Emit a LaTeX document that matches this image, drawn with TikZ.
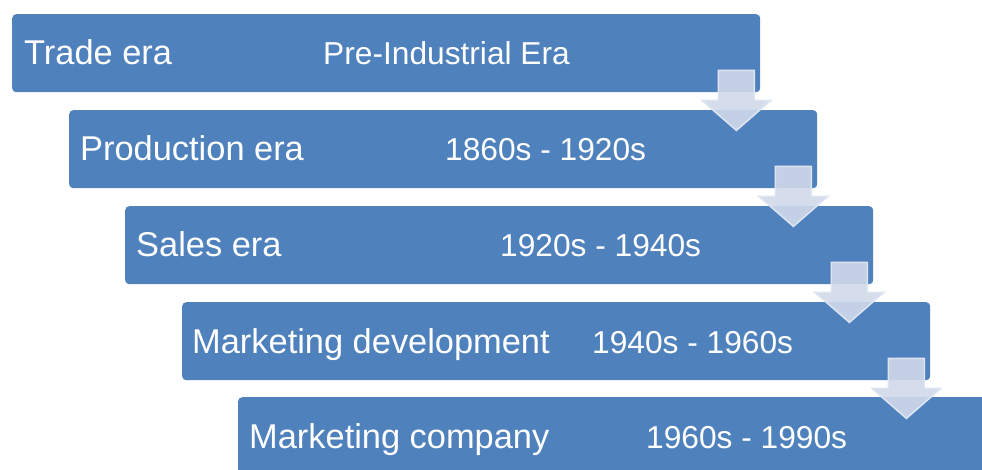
\documentclass[tikz,border=0pt]{standalone}
\usepackage{fontspec}
\setmainfont{Liberation Sans}
\definecolor{eraBlue}{RGB}{79,129,189}
\definecolor{flowFill}{RGB}{208,217,234}
\definecolor{flowLine}{RGB}{222,229,241}

\begin{document}
\begin{tikzpicture}[x=1pt, y=-1pt,
    stage/.style={fill=eraBlue, rounded corners=4pt, minimum width=748pt, minimum height=78pt,
      inner sep=0pt, anchor=north west},
    era/.style={text=white, anchor=base west, inner sep=0pt, font=\fontsize{34.4}{40}\selectfont},
    period/.style={text=white, anchor=base west, inner sep=0pt, font=\fontsize{31.7}{38}\selectfont},
    flow/.style={fill=flowFill, fill opacity=0.9, draw=flowLine, line width=1.5pt, line join=miter}]
  \clip (0,0) rectangle (982,469);
  \node[stage] (trade) at (12,14) {};
  \node[stage] (production) at (69,110) {};
  \node[stage] (sales) at (125,206) {};
  \node[stage] (development) at (182,302) {};
  \node[stage] (company) at (238,397) {};

  \node[era] (tradeName) at ([shift={(12,50)}]trade.north west) {Trade era};
  \node[period] (tradeTime) at ([shift={(311,50)}]trade.north west) {Pre-Industrial Era};
  \node[era] (productionName) at ([shift={(11,50)}]production.north west) {Production era};
  \node[period] (productionTime) at ([shift={(376,50)}]production.north west) {1860s - 1920s};
  \node[era] (salesName) at ([shift={(11,50)}]sales.north west) {Sales era};
  \node[period] (salesTime) at ([shift={(375,50)}]sales.north west) {1920s - 1940s};
  \node[era] (developmentName) at ([shift={(10,51)}]development.north west) {Marketing development};
  \node[period] (developmentTime) at ([shift={(410,51)}]development.north west) {1940s - 1960s};
  \node[era] (companyName) at ([shift={(11,51)}]company.north west) {Marketing company};
  \node[period] (companyTime) at ([shift={(408,51)}]company.north west) {1960s - 1990s};

  % arrows from one era to the next
  \foreach \from in {trade, production, sales, development}
    \draw[flow] ([xshift=-42pt, yshift=22pt]\from.south east) -- ++(36,0) -- ++(0,30)
      -- ++(16.5,0) -- ++(-34.5,30) -- ++(-34.5,-30) -- ++(16.5,0) -- cycle;
\end{tikzpicture}
\end{document}
